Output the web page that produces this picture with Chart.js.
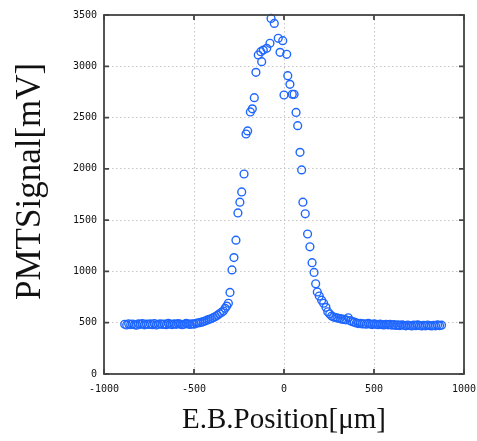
<!DOCTYPE html>
<html>
  <head>
    <title>PMT Signal</title>
    <style>
      body { margin: 0; background: #fff; }
    </style>
    <script src="https://cdn.jsdelivr.net/npm/chart.js"></script>
  </head>
  <body>
    <canvas id="myChart" width="477" height="441"></canvas>
    <script>
      // beam position (um) and PMT signal (mV)
      const positions = [
        -885, -874, -863, -852, -841, -830, -819, -808, -797, -786,
        -775, -764, -753, -742, -731, -720, -709, -698, -687, -676,
        -665, -654, -643, -632, -621, -610, -599, -588, -577, -566,
        -555, -544, -533, -522, -511, -500, -489,
        -480, -469, -458, -447, -436, -425, -414, -403, -392, -381,
        -370, -359, -348, -337, -327, -318, -309, -300, -289, -278,
        -267, -256, -245, -235, -222, -211, -202, -187, -176, -165,
        -156, -143, -129, -124, -115, -96, -78, -72, -54, -32,
        -22, -7, 0, 15, 21, 33, 46, 56, 67, 76,
        89, 98, 105, 118, 131, 144, 156, 167, 176, 185,
        196, 209, 220, 233, 243, 254, 265, 276, 287, 298,
        311, 322, 333, 344, 357, 368, 380, 391,
        402, 413, 424, 435, 446, 457, 468, 479, 490, 501,
        512, 523, 534, 545, 556, 567, 578, 589, 600, 611,
        622, 633, 644, 655, 666, 677, 688, 699, 710, 721,
        732, 743, 754, 765, 776, 787, 798, 809, 820, 831,
        842, 853, 864, 875
      ];
      const signals = [
        485, 478, 490, 482, 487, 480, 476, 489, 484, 491,
        479, 486, 483, 488, 481, 492, 478, 485, 490, 483,
        487, 480, 494, 486, 482, 489, 484, 491, 487, 480,
        485, 493, 488, 483, 490, 486, 495,
        497, 500, 505, 511, 518, 527, 534, 541, 550, 560,
        573, 587, 600, 614, 640, 662, 690, 795, 1015, 1135,
        1305, 1570, 1675, 1775, 1950, 2340, 2370, 2555, 2585, 2694,
        2941, 3110, 3142, 3045, 3158, 3175, 3224, 3467, 3418, 3273,
        3136, 3250, 2720, 3117, 2908, 2824, 2727, 2727, 2550, 2421,
        2161, 1990, 1675, 1562, 1365, 1240, 1085, 990, 880, 800,
        760, 720, 690, 650, 607, 585, 565, 555, 550, 545,
        540, 535, 532, 528, 548, 520, 510, 505,
        498, 492, 495, 488, 490, 485, 493, 487, 482, 489,
        484, 480, 486, 481, 478, 485, 479, 483, 476, 481,
        474, 478, 472, 480, 475, 470, 477, 473, 468, 476,
        471, 479, 473, 469, 475, 470, 477, 472, 468, 474,
        470, 478, 472, 476
      ];
      const xTicks = [-1000, -500, 0, 500, 1000];
      const yTicks = [0, 500, 1000, 1500, 2000, 2500, 3000, 3500];

      // solid frame with short inward ticks on all four sides
      const frameTicks = {
        id: 'frameTicks',
        afterDatasetsDraw(chart) {
          const { ctx, chartArea: a, scales: { x, y } } = chart;
          ctx.save();
          ctx.strokeStyle = '#444';
          ctx.lineWidth = 1.8;
          ctx.strokeRect(a.left, a.top, a.right - a.left, a.bottom - a.top);
          ctx.beginPath();
          for (const v of xTicks) {
            const px = x.getPixelForValue(v);
            ctx.moveTo(px, a.top); ctx.lineTo(px, a.top + 5);
            ctx.moveTo(px, a.bottom); ctx.lineTo(px, a.bottom - 5);
          }
          for (const v of yTicks) {
            const py = y.getPixelForValue(v);
            ctx.moveTo(a.left, py); ctx.lineTo(a.left + 5, py);
            ctx.moveTo(a.right, py); ctx.lineTo(a.right - 5, py);
          }
          ctx.stroke();
          ctx.restore();
        }
      };

      const tickFont = { family: 'DejaVu Sans Mono', size: 10 };
      const gridOpts = { color: '#c4c4c4', lineWidth: 1, drawTicks: false };
      const plain = v => String(v);

      const ctx = document.getElementById('myChart').getContext('2d');
      new Chart(ctx, {
        type: 'scatter',
        data: {
          datasets: [{
            data: positions.map((p, i) => ({ x: p, y: signals[i] })),
            pointStyle: 'circle',
            pointRadius: 3.9,
            borderWidth: 1.4,
            borderColor: '#1e66ff',
            backgroundColor: 'rgba(0,0,0,0)',
            clip: false
          }]
        },
        plugins: [frameTicks],
        options: {
          responsive: false,
          animation: false,
          layout: { padding: { top: 15, right: 13, left: 0, bottom: 0 } },
          plugins: { legend: { display: false }, tooltip: { enabled: false } },
          scales: {
            x: {
              type: 'linear', min: -1000, max: 1000,
              afterBuildTicks: s => { s.ticks = xTicks.map(v => ({ value: v })); },
              afterFit: s => { s.height = 67; s.paddingLeft = 0; s.paddingRight = 0; },
              border: { display: false, dash: [1.5, 2.5] },
              grid: gridOpts,
              ticks: { font: tickFont, color: '#111', padding: 9, maxRotation: 0, callback: plain },
              title: { display: true, text: 'E.B.Position[μm]', font: { family: 'Liberation Serif', size: 29 }, color: '#111', padding: { top: 4, bottom: 3 } }
            },
            y: {
              type: 'linear', min: 0, max: 3500,
              afterBuildTicks: s => { s.ticks = yTicks.map(v => ({ value: v })); },
              afterFit: s => { s.width = 104; s.paddingTop = 0; s.paddingBottom = 0; },
              border: { display: false, dash: [1.5, 2.5] },
              grid: gridOpts,
              ticks: { font: tickFont, color: '#111', padding: 7, callback: plain },
              title: { display: true, text: '   PMTSignal[mV]', font: { family: 'Liberation Serif', size: 35 }, color: '#111', padding: { top: 10, bottom: 4 } }
            }
          }
        }
      });
    </script>
  </body>
</html>
